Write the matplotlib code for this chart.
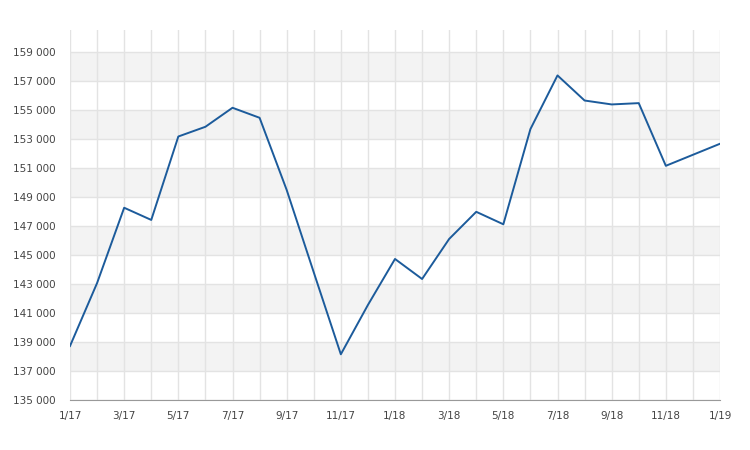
import matplotlib.pyplot as plt
import numpy as np

months = ['1/17', '2/17', '3/17', '4/17', '5/17', '6/17', '7/17', '8/17', '9/17',
          '10/17', '11/17', '12/17', '1/18', '2/18', '3/18', '4/18', '5/18', '6/18',
          '7/18', '8/18', '9/18', '10/18', '11/18', '12/18', '1/19']
values = [138720, 143060, 148250, 147410, 153160, 153830, 155140, 154450, 149480,
          143800, 138150, 141550, 144720, 143340, 146100, 147970, 147110, 153670,
          157370, 155640, 155370, 155460, 151140, 151900, 152660]
ytick_vals = list(range(135000, 159001, 2000))

fig = plt.figure(figsize=(7.5, 4.5), dpi=100)
ax = fig.add_axes([70/750, 50/450, 650/750, 370/450])

x = np.arange(len(months))

# alternating horizontal bands
for lo in range(137000, 159000, 4000):
    ax.axhspan(lo, lo + 2000, color='#f3f3f3', zorder=0, lw=0)

ax.plot(x, values, color='#1c5b9b', lw=1.4, zorder=3)

ax.set_xlim(0, len(months) - 1)
ax.set_ylim(135000, 160500)
ax.set_xticks(x, minor=True)
ax.set_xticks(x[::2])
ax.set_xticklabels(months[::2])
ax.set_yticks(ytick_vals)
ax.set_yticklabels([f'{v:,}'.replace(',', ' ') for v in ytick_vals])

ax.grid(True, which='both', axis='x', color='#e3e3e3', lw=1, zorder=1)
ax.grid(True, which='major', axis='y', color='#e3e3e3', lw=1, zorder=1)
ax.set_axisbelow(True)

for s in ['top', 'right', 'left']:
    ax.spines[s].set_visible(False)
ax.spines['bottom'].set_color('#999999')

ax.tick_params(axis='both', which='both', length=0, labelsize=7.5, colors='#444444')
ax.tick_params(axis='x', pad=8)
ax.tick_params(axis='y', pad=10)

plt.savefig('out.png', dpi=100)
